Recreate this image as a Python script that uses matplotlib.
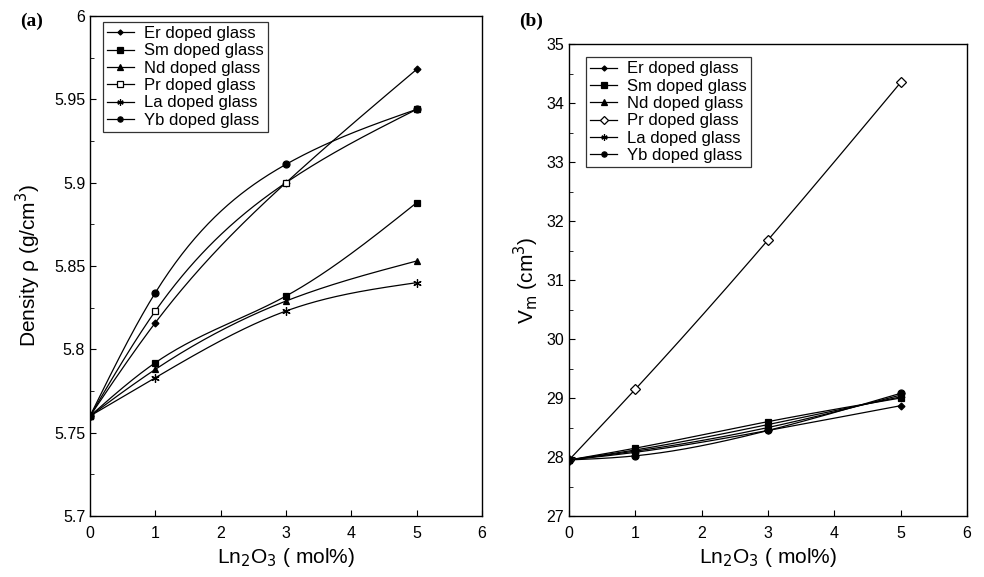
import numpy as np
import matplotlib.pyplot as plt
from matplotlib.ticker import MultipleLocator

plt.rcParams['font.family'] = ['Liberation Sans', 'DejaVu Sans']

x_mol = [0, 1, 3, 5]
labels = ['Er doped glass', 'Sm doped glass', 'Nd doped glass',
          'Pr doped glass', 'La doped glass', 'Yb doped glass']

density_er = [5.760, 5.816, 5.900, 5.968]
density_sm = [5.760, 5.792, 5.832, 5.888]
density_nd = [5.760, 5.788, 5.829, 5.853]
density_pr = [5.760, 5.823, 5.900, 5.944]
density_la = [5.760, 5.783, 5.823, 5.840]
density_yb = [5.760, 5.834, 5.911, 5.944]

vm_er = [27.95, 28.08, 28.45, 28.87]
vm_sm = [27.95, 28.15, 28.60, 29.00]
vm_nd = [27.95, 28.12, 28.55, 29.02]
vm_pr = [27.95, 29.15, 31.68, 34.35]
vm_la = [27.95, 28.10, 28.50, 29.05]
vm_yb = [27.95, 28.02, 28.45, 29.08]


def natural_spline(x, y, n=200):
    # natural cubic spline, only used to draw the smooth connecting line
    x = np.asarray(x, float)
    y = np.asarray(y, float)
    k = len(x)
    h = np.diff(x)
    A = np.zeros((k, k))
    b = np.zeros(k)
    A[0, 0] = A[-1, -1] = 1
    for i in range(1, k - 1):
        A[i, i - 1] = h[i - 1]
        A[i, i] = 2 * (h[i - 1] + h[i])
        A[i, i + 1] = h[i]
        b[i] = 6 * ((y[i + 1] - y[i]) / h[i] - (y[i] - y[i - 1]) / h[i - 1])
    M = np.linalg.solve(A, b)
    xs = np.linspace(x[0], x[-1], n)
    idx = np.clip(np.searchsorted(x, xs) - 1, 0, k - 2)
    x0, x1 = x[idx], x[idx + 1]
    hh = x1 - x0
    ys = (M[idx] * (x1 - xs) ** 3 / (6 * hh) + M[idx + 1] * (xs - x0) ** 3 / (6 * hh)
          + (y[idx] / hh - M[idx] * hh / 6) * (x1 - xs)
          + (y[idx + 1] / hh - M[idx + 1] * hh / 6) * (xs - x0))
    return xs, ys


star = (6, 2, 0)
left_markers = [('D', 'k', 3.5), ('s', 'k', 5), ('^', 'k', 5), ('s', 'white', 5), (star, 'k', 6), ('o', 'k', 5)]
right_markers = [('D', 'k', 3.5), ('s', 'k', 5), ('^', 'k', 5), ('D', 'white', 5), (star, 'k', 6), ('o', 'k', 5)]

fig = plt.figure(figsize=(9.84, 5.77), dpi=100)
ax1 = fig.add_axes([0.0915, 0.1057, 0.3984, 0.8666])
ax2 = fig.add_axes([0.5783, 0.1057, 0.4045, 0.8180])


def draw(ax, series, markers, leg_anchor):
    for ys, lab, (m, fc, ms) in zip(series, labels, markers):
        xs, sm = natural_spline(x_mol, ys)
        ax.plot(xs, sm, color='k', lw=0.9)
        ax.plot(x_mol, ys, linestyle='none', marker=m, color='k', mfc=fc, mec='k', ms=ms, mew=0.9)
        ax.plot([], [], color='k', lw=0.9, marker=m, mfc=fc, mec='k', ms=ms * 0.75, mew=0.9, label=lab)
    ax.set_xlim(0, 6)
    ax.xaxis.set_major_locator(MultipleLocator(1))
    ax.tick_params(direction='in', labelsize=11.5, top=False, right=False, length=4)
    ax.tick_params(which='minor', direction='in', length=3, top=False, right=False)
    ax.tick_params(axis='x', pad=7)
    ax.set_xlabel('Ln$_2$O$_3$ ( mol%)', fontsize=15)
    leg = ax.legend(loc='upper left', bbox_to_anchor=leg_anchor, fontsize=12, frameon=True,
                    fancybox=False, edgecolor='k', handlelength=1.6, labelspacing=0.14,
                    borderpad=0.25, handletextpad=0.6, borderaxespad=0.0)
    leg.get_frame().set_linewidth(0.9)
    for sp in ax.spines.values():
        sp.set_linewidth(1.0)


draw(ax1, [density_er, density_sm, density_nd, density_pr, density_la, density_yb],
     left_markers, (0.033, 0.988))
ax1.set_ylim(5.7, 6.0)
ax1.yaxis.set_minor_locator(MultipleLocator(0.025))
ax1.set_yticks([5.7, 5.75, 5.8, 5.85, 5.9, 5.95, 6.0])
ax1.set_yticklabels(['5.7', '5.75', '5.8', '5.85', '5.9', '5.95', '6'])
ax1.set_ylabel('Density ρ (g/cm$^3$)', fontsize=15, labelpad=8)

draw(ax2, [vm_er, vm_sm, vm_nd, vm_pr, vm_la, vm_yb], right_markers, (0.043, 0.972))
ax2.set_ylim(27, 35)
ax2.yaxis.set_major_locator(MultipleLocator(1))
ax2.yaxis.set_minor_locator(MultipleLocator(0.5))
ax2.set_ylabel('V$_\\mathrm{m}$ (cm$^3$)', fontsize=15)

fig.text(0.02, 0.955, '(a)', fontsize=14, fontweight='bold', family='Liberation Serif')
fig.text(0.528, 0.955, '(b)', fontsize=14, fontweight='bold', family='Liberation Serif')

fig.savefig('out.png', dpi=100)
